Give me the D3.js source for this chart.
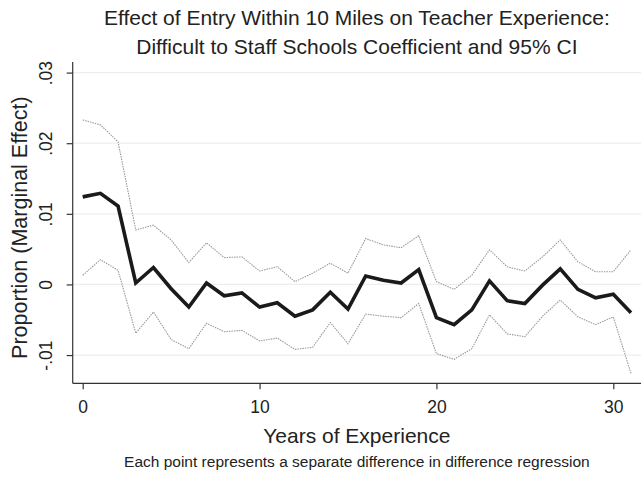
<!DOCTYPE html>
<html>
<head>
<meta charset="utf-8">
<script src="https://cdn.jsdelivr.net/npm/d3@7"></script>
<style>
  html, body { margin: 0; padding: 0; background: #fff; }
  svg { display: block; }
  text { font-family: "Liberation Sans", Arial, Helvetica, sans-serif; fill: #222; }
</style>
</head>
<body>
<svg id="chart" width="641" height="479"></svg>
<script>
// Years of experience (0..31)
const years = d3.range(0, 32);

// Point estimates of the marginal effect
const coef = [
  0.0124, 0.0129, 0.0111, 0.0002, 0.0024, -0.0006, -0.0032, 0.0002,
  -0.0016, -0.0012, -0.0032, -0.0026, -0.0045, -0.0036, -0.0011, -0.0035,
  0.0012, 0.0006, 0.0002, 0.0021, -0.0047, -0.0057, -0.0036, 0.0005,
  -0.0023, -0.0027, -0.0001, 0.0022, -0.0007, -0.0019, -0.0014, -0.0040
];

// Upper bound of the 95% confidence interval
const ciUpper = [
  0.0233, 0.0226, 0.0202, 0.0077, 0.0084, 0.0063, 0.0031, 0.0059,
  0.0038, 0.0039, 0.0019, 0.0025, 0.0004, 0.0016, 0.0030, 0.0016,
  0.0065, 0.0056, 0.0052, 0.0069, 0.0004, -0.0007, 0.0013, 0.0049,
  0.0025, 0.0019, 0.0039, 0.0063, 0.0032, 0.0018, 0.0018, 0.0049
];

// Lower bound of the 95% confidence interval
const ciLower = [
  0.0013, 0.0035, 0.0020, -0.0069, -0.0039, -0.0078, -0.0091, -0.0055,
  -0.0067, -0.0065, -0.0080, -0.0076, -0.0092, -0.0089, -0.0054, -0.0084,
  -0.0042, -0.0045, -0.0047, -0.0027, -0.0098, -0.0106, -0.0091, -0.0043,
  -0.0070, -0.0074, -0.0045, -0.0022, -0.0046, -0.0057, -0.0046, -0.0126
];

const xTicks = [0, 10, 20, 30];
const yTicks = [-0.01, 0, 0.01, 0.02, 0.03];
const yTickLabels = ["-.01", "0", ".01", ".02", ".03"];

const titleLines = [
  "Effect of Entry Within 10 Miles on Teacher Experience:",
  "Difficult to Staff Schools Coefficient and 95% CI"
];
const xTitle = "Years of Experience";
const yTitle = "Proportion (Marginal Effect)";
const note = "Each point represents a separate difference in difference regression";

const svg = d3.select("#chart");

const plot = { left: 72.7, right: 641, top: 62, bottom: 383.3 };

const x = d3.scaleLinear().domain([0, 30]).range([82.7, 613.3]);
const y = d3.scaleLinear().domain([-0.014, 0.0315]).range([plot.bottom, plot.top]);

// Horizontal gridlines
svg.append("g")
  .selectAll("line")
  .data(yTicks)
  .join("line")
  .attr("x1", plot.left)
  .attr("x2", plot.right)
  .attr("y1", d => y(d))
  .attr("y2", d => y(d))
  .attr("stroke", "#eeeeee")
  .attr("stroke-width", 1.2);

// Y axis
const yAxis = svg.append("g")
  .attr("transform", `translate(${plot.left},0)`)
  .call(d3.axisLeft(y).tickValues(yTicks).tickSize(6)
    .tickFormat((d, i) => yTickLabels[i]));
yAxis.select(".domain")
  .attr("d", `M0,${plot.top}V${plot.bottom}`)
  .attr("stroke", "#333").attr("stroke-width", 1.2);
yAxis.selectAll(".tick line").attr("stroke", "#333").attr("stroke-width", 1.2);
yAxis.selectAll(".tick text")
  .attr("x", null).attr("dy", null).attr("y", 0)
  .attr("transform", "translate(-20.5,0) rotate(-90)")
  .attr("text-anchor", "middle")
  .style("font-size", "17.5px")
  .style("font-family", "'Liberation Sans', Arial, sans-serif")
  .attr("fill", "#222");

// X axis
const xAxis = svg.append("g")
  .attr("transform", `translate(0,${plot.bottom})`)
  .call(d3.axisBottom(x).tickValues(xTicks).tickSize(6).tickFormat(d3.format("d")));
xAxis.select(".domain")
  .attr("d", `M${plot.left},0H${plot.right}`)
  .attr("stroke", "#333").attr("stroke-width", 1.2);
xAxis.selectAll(".tick line").attr("stroke", "#333").attr("stroke-width", 1.2);
xAxis.selectAll(".tick text")
  .attr("y", 30).attr("dy", null)
  .style("font-size", "17.5px")
  .style("font-family", "'Liberation Sans', Arial, sans-serif")
  .attr("fill", "#222");

// Lines
const line = arr => d3.line()
  .x((d, i) => x(years[i]))
  .y(d => y(d))(arr);

svg.append("path")
  .attr("d", line(ciUpper))
  .attr("fill", "none")
  .attr("stroke", "#9a9a9a")
  .attr("stroke-width", 1.1)
  .attr("stroke-dasharray", "1.5,1");

svg.append("path")
  .attr("d", line(ciLower))
  .attr("fill", "none")
  .attr("stroke", "#9a9a9a")
  .attr("stroke-width", 1.1)
  .attr("stroke-dasharray", "1.5,1");

svg.append("path")
  .attr("d", line(coef))
  .attr("fill", "none")
  .attr("stroke", "#1a1a1a")
  .attr("stroke-width", 3.6)
  .attr("stroke-linejoin", "miter");

// Titles
const cx = (plot.left + plot.right) / 2;
svg.append("g")
  .selectAll("text")
  .data(titleLines)
  .join("text")
  .attr("x", cx)
  .attr("y", (d, i) => 25 + i * 28.5)
  .attr("text-anchor", "middle")
  .style("font-size", "21px")
  .text(d => d);

svg.append("text")
  .attr("x", cx)
  .attr("y", 443)
  .attr("text-anchor", "middle")
  .style("font-size", "21px")
  .text(xTitle);

svg.append("text")
  .attr("transform", `translate(27,${(plot.top + plot.bottom) / 2 + 5}) rotate(-90)`)
  .attr("text-anchor", "middle")
  .style("font-size", "21.5px")
  .text(yTitle);

svg.append("text")
  .attr("x", cx)
  .attr("y", 467)
  .attr("text-anchor", "middle")
  .style("font-size", "15.5px")
  .text(note);
</script>
</body>
</html>
